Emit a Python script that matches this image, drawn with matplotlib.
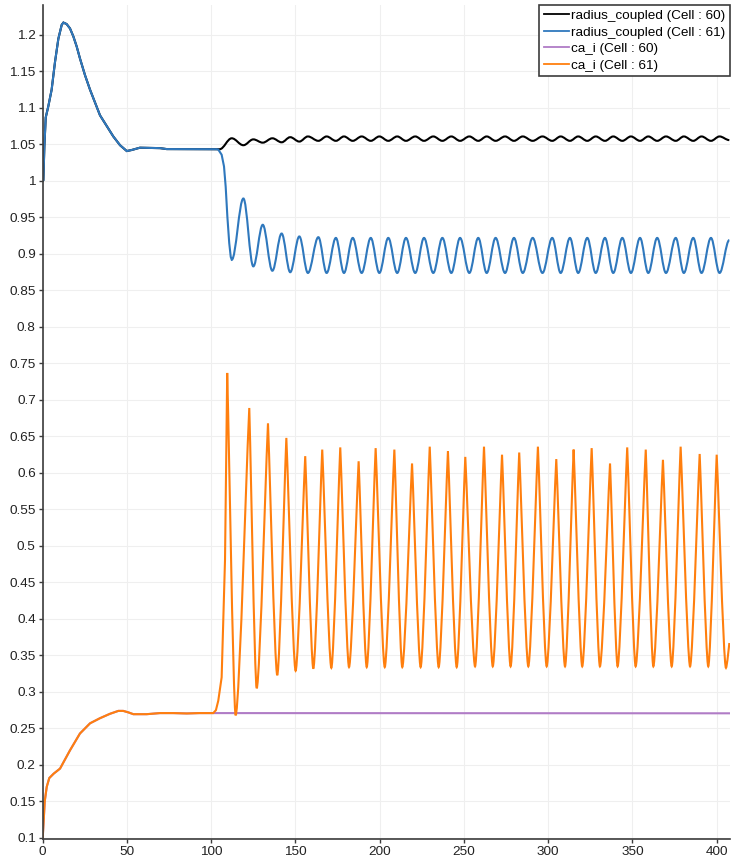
import numpy as np
import matplotlib
matplotlib.use('Agg')
import matplotlib.pyplot as plt
from matplotlib.path import Path
from matplotlib.patches import PathPatch
from matplotlib.lines import Line2D

plt.rcParams['font.family'] = ['Liberation Sans', 'DejaVu Sans']

# ---- data ----
# radius, both cells identical until ~104
r_early_t = [0.0, 0.4, 1.0, 1.8, 3.3, 5.3, 7.3, 9.3, 11.3, 12.3, 14.2, 16.2, 18.2, 20.2,
             22.1, 25.1, 28.1, 34.0, 41.9, 45.9, 49.9, 52.9, 57.7, 69.6, 73.6, 103.3]
r_early_v = [1.0, 1.001, 1.048, 1.087, 1.102, 1.125, 1.163, 1.195, 1.214, 1.217, 1.215, 1.209,
             1.198, 1.184, 1.168, 1.145, 1.125, 1.090, 1.061, 1.049, 1.041, 1.0425, 1.0456,
             1.045, 1.0437, 1.0435]

# cell 61 radius drop
r61_drop_t = [104.2, 106.2, 107.6, 108.6, 109.6, 110.7, 111.6, 112.2]
r61_drop_v = [1.043, 1.036, 1.020, 0.992, 0.951, 0.915, 0.896, 0.892]

r61_trough_t = [112.2, 125.0, 136.3, 146.9, 157.4, 168.5, 178.8, 189.3, 199.8, 210.4,
                221.1, 231.8, 242.5, 253.2, 263.5, 274.4, 284.9, 296.6, 307.4, 317.8,
                328.2, 338.6, 349.1, 359.4, 369.9, 380.5, 391.0, 401.7]
r61_trough_v = [0.892, 0.883, 0.877, 0.875] + [0.874] * 24
r61_peak_t = [119.1, 130.6, 141.8, 152.3, 163.6, 174.0, 184.0, 194.7, 205.1, 215.6,
              226.3, 237.2, 247.7, 258.5, 268.8, 279.7, 290.8, 302.4, 312.9, 323.2,
              333.7, 344.0, 354.5, 364.7, 375.7, 386.1, 396.6]
r61_peak_v = [0.976, 0.940, 0.928, 0.924, 0.923] + [0.922] * 22
r61_end = (407.5, 0.919)

# cell 60 radius: small ripple, peaks where cell 61 has troughs
r60_start = (105.0, 1.0435)
r60_peak_t = r61_trough_t
r60_peak_v = [1.0585, 1.057, 1.0585, 1.060] + [1.061] * 24
r60_trough_t = r61_peak_t
r60_trough_v = [1.049, 1.0525, 1.053, 1.054] + [1.055] * 23
r60_end = (407.5, 1.056)

# calcium, both cells identical until ~102
ca_early_t = [0.0, 0.5, 1.2, 2.4, 3.9, 6.5, 10.3, 16.2, 22.1, 28.1, 34.0, 39.9, 44.9,
              47.8, 50.8, 53.8, 61.7, 69.6, 77.5, 85.5, 93.0, 101.2]
ca_early_v = [0.1, 0.12, 0.15, 0.170, 0.182, 0.188, 0.195, 0.220, 0.243, 0.257, 0.264,
              0.270, 0.274, 0.274, 0.272, 0.2695, 0.2695, 0.271, 0.271, 0.2705, 0.271, 0.271]
ca60_end = (407.5, 0.2707)

ca61_spike_t = [102.8, 104.2, 106.2, 108.2, 109.5]
ca61_spike_v = [0.275, 0.288, 0.320, 0.481, 0.737]
ca61_trough_t = [114.5, 127.0, 139.2, 150.1, 160.6, 171.3, 181.8, 192.3, 203.0, 213.4,
                 224.3, 235.0, 245.7, 256.6, 267.1, 277.7, 288.2, 299.1, 310.0, 320.2,
                 330.7, 341.2, 351.9, 362.4, 373.3, 384.2, 395.0, 405.5]
ca61_trough_v = [0.268, 0.305, 0.323, 0.329, 0.332, 0.333] + [0.334] * 7 + [0.335] * 14 + [0.333]
ca61_peak_t = [122.6, 133.7, 144.6, 155.8, 165.9, 176.6, 187.5, 197.6, 208.7, 219.2,
               229.7, 240.5, 250.8, 261.9, 272.6, 282.8, 293.9, 304.8, 315.1, 325.8,
               336.7, 346.9, 357.9, 368.1, 378.6, 389.9, 400.0]
ca61_peak_v = [0.689, 0.668, 0.648, 0.623, 0.632, 0.635, 0.616, 0.634, 0.632, 0.613,
               0.636, 0.630, 0.622, 0.636, 0.625, 0.628, 0.636, 0.619, 0.632, 0.634,
               0.613, 0.635, 0.632, 0.618, 0.636, 0.626, 0.625]
ca61_end = (407.5, 0.367)

labels = ['radius_coupled (Cell : 60)', 'radius_coupled (Cell : 61)',
          'ca_i (Cell : 60)', 'ca_i (Cell : 61)']
colors = ['#000000', '#2f78bd', '#b07cc6', '#ff7f0e']


def interleave(a_t, a_v, b_t, b_v):
    pts = []
    for i in range(max(len(a_t), len(b_t))):
        if i < len(a_t):
            pts.append((a_t[i], a_v[i]))
        if i < len(b_t):
            pts.append((b_t[i], b_v[i]))
    return pts


def curve_path(lead, extrema, k_list):
    # polyline lead-in, then smooth curves joining the read extrema
    # k_list: handle length (fraction of segment) at each extremum, 0 = pointed
    verts = list(lead)
    codes = [Path.MOVETO] + [Path.LINETO] * (len(lead) - 1)
    for i in range(1, len(extrema)):
        (t0, v0), (t1, v1) = extrema[i - 1], extrema[i]
        dt = t1 - t0
        c1 = (t0 + k_list[i - 1] * dt, v0)
        c2 = (t1 - k_list[i] * dt, v1)
        verts += [c1, c2, (t1, v1)]
        codes += [Path.CURVE4] * 3
    return Path(verts, codes)


fig = plt.figure(figsize=(7.37, 8.63), dpi=100)
ax = fig.add_axes([42.7 / 737, 1 - 839 / 863, (730 - 42.7) / 737, 834 / 863])

# cell 60 radius
lead = list(zip(r_early_t, r_early_v)) + [r60_start]
ext = [r60_start] + interleave(r60_peak_t, r60_peak_v, r60_trough_t, r60_trough_v) + [r60_end]
ax.add_patch(PathPatch(curve_path(lead, ext, [0.36] * len(ext)),
                       fill=False, edgecolor=colors[0], lw=1.5, zorder=2))

# cell 61 radius
lead = list(zip(r_early_t, r_early_v)) + list(zip(r61_drop_t, r61_drop_v))
ext = interleave(r61_trough_t, r61_trough_v, r61_peak_t, r61_peak_v) + [r61_end]
ax.add_patch(PathPatch(curve_path(lead, ext, [0.36] * len(ext)),
                       fill=False, edgecolor=colors[1], lw=1.5, zorder=3))

# cell 60 calcium
ax.plot(ca_early_t + [ca60_end[0]], ca_early_v + [ca60_end[1]], color=colors[2], lw=1.5, zorder=4)

# cell 61 calcium
lead = list(zip(ca_early_t, ca_early_v)) + list(zip(ca61_spike_t, ca61_spike_v))
ext = [(ca61_spike_t[-1], ca61_spike_v[-1])] + \
    interleave(ca61_trough_t, ca61_trough_v, ca61_peak_t, ca61_peak_v) + [ca61_end]
k_ca = [0.06] + [0.28, 0.06] * len(ca61_peak_t) + [0.28, 0.0]
ax.add_patch(PathPatch(curve_path(lead, ext, k_ca),
                       fill=False, edgecolor=colors[3], lw=1.5, zorder=5))

ax.set_xlim(0, 407.9)
ax.set_ylim(0.0985, 1.2411)
ax.set_xticks(np.arange(0, 401, 50))
yt = np.round(np.arange(0.1, 1.2001, 0.05), 2)
ax.set_yticks(yt)
ax.set_yticklabels([f'{v:g}' for v in yt])
ax.grid(True, color='#efefef', lw=0.8)
ax.set_axisbelow(True)
for s in ['top', 'right']:
    ax.spines[s].set_visible(False)
for s in ['left', 'bottom']:
    ax.spines[s].set_color('#3c3c3c')
    ax.spines[s].set_linewidth(1.2)
    ax.spines[s].set_zorder(6)
ax.tick_params(direction='out', length=3, width=1, color='#3c3c3c',
               labelsize=9.7, labelcolor='#222222', pad=2)

handles = [Line2D([], [], color=c, lw=1.3) for c in colors]
leg = ax.legend(handles, labels, loc='upper right', bbox_to_anchor=(1.0, 1.0),
                borderaxespad=0, fontsize=9.7, handlelength=1.85, handletextpad=0.15,
                labelspacing=0.3, borderpad=0.35, fancybox=False, framealpha=1)
leg.get_frame().set_edgecolor('#3c3c3c')
leg.get_frame().set_linewidth(1.2)
leg.set_zorder(10)

fig.savefig('out.png', dpi=100, facecolor='white')
